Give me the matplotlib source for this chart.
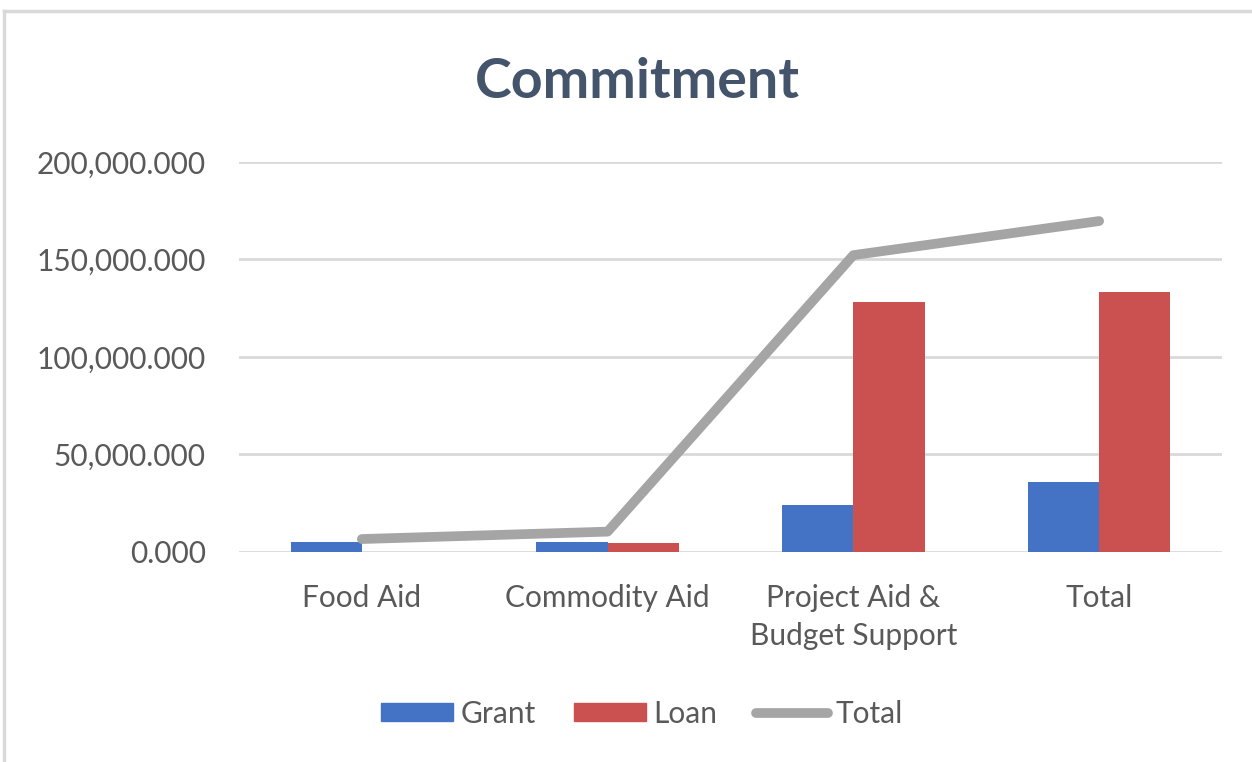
import matplotlib
matplotlib.use("Agg")
import matplotlib.pyplot as plt
import numpy as np
from matplotlib.patches import Patch
from matplotlib.lines import Line2D
from matplotlib.ticker import FuncFormatter

categories = ["Food Aid", "Commodity Aid", "Project Aid &\nBudget Support", "Total"]
grant = [5100, 5000, 23800, 35700]
loan = [0, 4300, 127900, 133500]
total = [6500, 10300, 152200, 169700]
yticks = [0, 50000, 100000, 150000, 200000]

plt.rcParams['font.family'] = ['Lato', 'DejaVu Sans']

W, H = 1252, 762
fig = plt.figure(figsize=(W / 100, H / 100), dpi=100)
ax = fig.add_axes([239 / W, 1 - 551.7 / H, (1222 - 239) / W, (551.7 - 162) / H])

x = np.arange(len(categories))
bw = 0.29
c_grant = "#4472C4"
c_loan = "#CB5150"
c_total = "#A5A5A5"
ax.bar(x - bw / 2, grant, bw, color=c_grant, zorder=2)
ax.bar(x + bw / 2, loan, bw, color=c_loan, zorder=2)
ax.plot(x, total, color=c_total, lw=7, solid_capstyle='round', solid_joinstyle='round', zorder=3)

ax.set_xlim(-0.5, len(categories) - 0.5)
ax.set_ylim(0, 200000)
ax.set_yticks(yticks)
ax.yaxis.set_major_formatter(FuncFormatter(lambda v, p: f"{v:,.3f}"))
ax.set_xticks(x)
ax.set_xticklabels(categories, linespacing=1.45)
ax.grid(axis='y', color="#D9D9D9", lw=2, zorder=0)
for s in ax.spines.values():
    s.set_visible(False)
ax.tick_params(axis='both', length=0, labelsize=21.5, labelcolor="#595959")
ax.tick_params(axis='y', pad=24)
ax.tick_params(axis='x', pad=23)

fig.text(637 / W, 1 - 82 / H, "Commitment", ha='center', va='center',
         fontsize=40, fontweight='bold', color="#44546A")

handles = [Patch(color=c_grant), Patch(color=c_loan),
           Line2D([0], [0], color=c_total, lw=7, solid_capstyle='round')]
fig.legend(handles, ["Grant", "Loan", "Total"], loc='center', bbox_to_anchor=(642 / W, 1 - 714 / H),
           ncol=3, frameon=False, fontsize=21.5, labelcolor="#595959",
           handlelength=2.4, handleheight=0.55, handletextpad=0.25, columnspacing=1.3)

# outer chart border (top and left visible)
fig.add_artist(Line2D([4 / W, 4 / W], [0, 1 - 11 / H], color="#D9D9D9", lw=2.5))
fig.add_artist(Line2D([4 / W, 1], [1 - 11 / H, 1 - 11 / H], color="#D9D9D9", lw=2.5))

fig.savefig("out.png", dpi=100)
